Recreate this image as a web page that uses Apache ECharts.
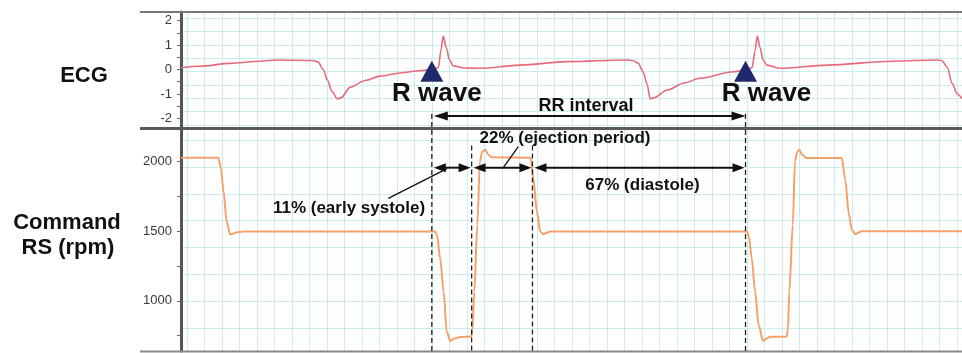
<!DOCTYPE html>
<html>
<head>
<meta charset="utf-8">
<script src="https://cdn.jsdelivr.net/npm/echarts@6/dist/echarts.min.js"></script>
<style>html,body{margin:0;padding:0;background:#fff}#c{width:962px;height:353px}</style>
</head>
<body>
<div id="c"></div>
<script>
// ---- data (time in ms, ECG in mV-like units, RS in rpm) ----
const ecgTime  = [-13, 30, 99, 168, 206, 289, 300, 312, 321, 332, 344, 353, 373, 408, 442, 488, 533, 563, 575, 581, 586, 593, 600, 609, 636, 670, 762, 869, 1006, 1020, 1032, 1043, 1052, 1059, 1068, 1098, 1137, 1173, 1249, 1281, 1292, 1299, 1304, 1310, 1317, 1326, 1356, 1464, 1614, 1715, 1726, 1738, 1749, 1761, 1772];
const ecgValue = [0.07, 0.13, 0.25, 0.34, 0.39, 0.37, 0.3, 0.0, -0.43, -0.9, -1.2, -1.15, -0.73, -0.45, -0.27, -0.14, -0.05, 0.0, 0.08, 0.8, 1.37, 0.9, 0.4, 0.15, 0.06, 0.05, 0.18, 0.32, 0.39, 0.37, 0.25, -0.1, -0.6, -1.2, -1.15, -0.84, -0.55, -0.36, -0.09, -0.02, 0.08, 0.8, 1.37, 0.9, 0.4, 0.18, 0.05, 0.18, 0.34, 0.39, 0.36, 0.1, -0.56, -1.0, -1.2];

const rsTime  = [-13, 72, 78, 84, 91, 99, 106, 114, 129, 568, 572, 579, 587, 594, 602, 611, 625, 650, 653, 657, 664, 670, 675, 682, 689, 696, 786, 792, 800, 808, 815, 822, 830, 1280, 1285, 1291, 1299, 1307, 1317, 1324, 1333, 1371, 1374, 1377, 1385, 1390, 1395, 1400, 1406, 1416, 1497, 1505, 1513, 1520, 1528, 1535, 1542, 1772];
const rsValue = [2028, 2028, 1950, 1784, 1572, 1478, 1482, 1493, 1497, 1497, 1470, 1306, 1066, 778, 712, 728, 740, 743, 800, 1066, 1545, 2000, 2070, 2084, 2050, 2030, 2028, 1881, 1641, 1497, 1478, 1488, 1497, 1497, 1460, 1308, 1066, 826, 712, 728, 743, 743, 800, 1066, 1545, 2000, 2070, 2084, 2050, 2025, 2025, 1868, 1629, 1509, 1478, 1490, 1500, 1500];

const rWaveTimes = [560, 1277];
const phaseBoundaries = [560, 651, 790, 1277];
const phaseLabels = ['11% (early systole)', '22% (ejection period)', '67% (diastole)'];

const ecgTickLabels = [-2, -1, 0, 1, 2];
const ecgTickMarks = [-2, -1.5, -1, -0.5, 0, 0.5, 1, 1.5, 2];
const rsTickLabels = [1000, 1500, 2000];
const rsTickMarks = [750, 1000, 1250, 1500, 1750, 2000];
const panelLabels = ['ECG', 'Command', 'RS (rpm)'];

// ---- chart ----
const chart = echarts.init(document.getElementById('c'), null, {renderer: 'canvas'});
const T_MIN = -13.3, T_MAX = 1771.8;
const GRIDC = '#c9ecec';
const FONT = '"Liberation Sans", Arial, sans-serif';
const zip = (a, b) => a.map((v, i) => [v, b[i]]);

const hiddenAxis = (gi, extra) => Object.assign({gridIndex: gi, type: 'value', axisLine: {show: false}, axisTick: {show: false}, axisLabel: {show: false}, splitLine: {show: false}}, extra || {});
const gridAxis = (gi, max) => hiddenAxis(gi, {min: 0, max: max, interval: 1, splitLine: {show: true, lineStyle: {color: GRIDC, width: 1}}});

const mainY = (gi, min, max, labels, marks) => ({
  gridIndex: gi, type: 'value', min: min, max: max,
  axisLine: {show: true, onZero: false, lineStyle: {color: '#555', width: 3}},
  axisTick: {show: true, customValues: marks, length: 4, lineStyle: {color: '#666', width: 1}},
  axisLabel: {show: true, customValues: labels, formatter: v => String(v), color: '#3a3a3a', fontSize: 13, fontFamily: FONT, margin: 9},
  splitLine: {show: false}
});

chart.setOption({
  animation: false,
  backgroundColor: '#fff',
  grid: [
    {left: 181, right: 0, top: 12, height: 115},
    {left: 181, right: 0, top: 129.5, height: 221.5},
    {left: 186.8, right: 0, top: 12, height: 339.5},
    {left: 181, right: 0, top: 18.3, height: 106.67},
    {left: 181, right: 0, top: 140, height: 188.3}
  ],
  xAxis: [
    hiddenAxis(0, {min: T_MIN, max: T_MAX}),
    hiddenAxis(1, {min: T_MIN, max: T_MAX}),
    gridAxis(2, 44.3),
    hiddenAxis(3, {min: 0, max: 1}),
    hiddenAxis(4, {min: 0, max: 1})
  ],
  yAxis: [
    mainY(0, -2.35, 2.35, ecgTickLabels, ecgTickMarks),
    mainY(1, 640, 2230, rsTickLabels, rsTickMarks),
    hiddenAxis(2, {min: 0, max: 1}),
    gridAxis(3, 8),
    gridAxis(4, 7)
  ],
  series: [
    {type: 'line', xAxisIndex: 0, yAxisIndex: 0, data: zip(ecgTime, ecgValue), showSymbol: false, smooth: 0.3, smoothMonotone: 'x',
     lineStyle: {color: '#e8697a', width: 1.6}, silent: true, z: 3},
    {type: 'line', xAxisIndex: 1, yAxisIndex: 1, data: zip(rsTime, rsValue), showSymbol: false, smooth: 0.3, smoothMonotone: 'x',
     lineStyle: {color: '#f6a06c', width: 2}, silent: true, z: 3},
    {type: 'scatter', xAxisIndex: 0, yAxisIndex: 0, data: rWaveTimes.map(t => [t, -0.07]), symbol: 'triangle', symbolSize: [23, 21],
     itemStyle: {color: '#1e2a6c', opacity: 1}, silent: true, z: 6}
  ]
});

// ---- annotations positioned through the axes ----
const P = (g, t, v) => chart.convertToPixel({gridIndex: g}, [t, v]);
const els = [];
const INK = '#111';
function seg(x1, y1, x2, y2, style) { els.push({type: 'line', silent: true, z: 50, shape: {x1, y1, x2, y2}, style: Object.assign({stroke: INK, lineWidth: 2}, style || {})}); }
function head(xTip, y, dir, len, half) { els.push({type: 'polygon', silent: true, z: 51, shape: {points: [[xTip, y], [xTip - dir * len, y - half], [xTip - dir * len, y + half]]}, style: {fill: INK}}); }
function dbl(xa, xb, y, len, half) { seg(xa + 4, y, xb - 4, y); head(xa, y, -1, len, half); head(xb, y, 1, len, half); }
function txt(x, y, s, size, align) { els.push({type: 'text', silent: true, z: 60, x: x, y: y, style: {text: s, font: 'bold ' + size + 'px ' + FONT, fill: INK, align: align || 'center', verticalAlign: 'middle'}}); }

// frame
seg(140, 12, 962, 12, {stroke: '#7a7a7a', lineWidth: 2});
seg(140, 128.5, 962, 128.5, {stroke: '#5a5a5a', lineWidth: 3});
seg(140, 351.5, 962, 351.5, {stroke: '#888', lineWidth: 2});

// dashed phase lines
const bx = phaseBoundaries.map(t => P(1, t, 1500)[0]);
const yTopR = P(0, 0, -1.82)[1];
const yTopIn = P(1, 0, 2115)[1];
const yBot = P(1, 0, 640)[1];
phaseBoundaries.forEach((t, i) => {
  const isR = (i === 0 || i === phaseBoundaries.length - 1);
  seg(bx[i], isR ? yTopR : yTopIn, bx[i], yBot, {stroke: '#222', lineWidth: 1.3, lineDash: [5, 3]});
});

// RR interval arrow
const rx = rWaveTimes.map(t => P(0, t, 0)[0]);
const yRR = P(0, 0, -1.9)[1];
dbl(rx[0] + 2, rx[1], yRR, 14, 4.5);

// phase arrows
const yPh = P(1, 0, 1956)[1];
for (let i = 0; i < 3; i++) dbl(bx[i] + 2, bx[i + 1] - 1, yPh, 12, 4.5);

// texts
txt(392, 94, 'R wave', 26, 'left');
txt(721.7, 94, 'R wave', 26, 'left');
txt(586, 106, 'RR interval', 18);
txt(565, 138, phaseLabels[1], 17);
txt(642.5, 185, phaseLabels[2], 17);
txt(349, 208, phaseLabels[0], 17);
seg(518.3, 146.7, 503.3, yPh, {lineWidth: 1.3});
seg(388.3, 198.3, 447, yPh + 1, {lineWidth: 1.3});

// panel labels
txt(84, 76, panelLabels[0], 22);
txt(67, 223, panelLabels[1], 22);
txt(68, 248, panelLabels[2], 22);

chart.setOption({graphic: {elements: els}});
</script>
</body>
</html>
